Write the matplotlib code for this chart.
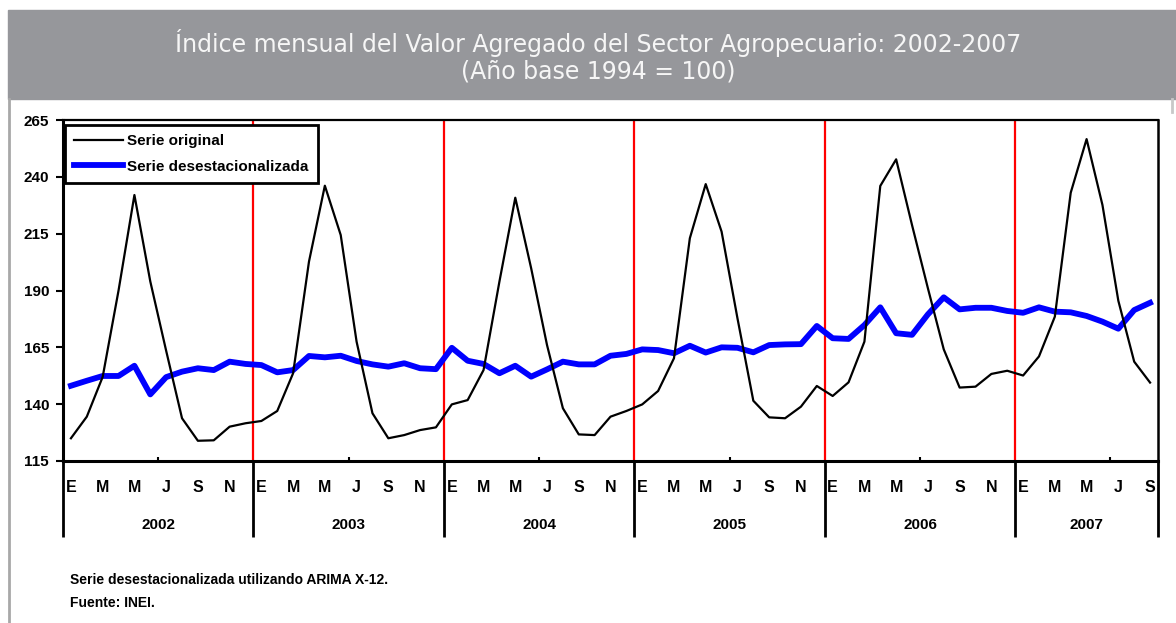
import matplotlib
matplotlib.use('Agg')
import matplotlib.pyplot as plt
from matplotlib.patches import Rectangle
from matplotlib.lines import Line2D
import numpy as np

FONT = ['Liberation Sans Narrow', 'Liberation Sans', 'DejaVu Sans']
plt.rcParams['font.family'] = FONT

years = ['2002', '2003', '2004', '2005', '2006', '2007']
month_letters = ['E', 'M', 'M', 'J', 'S', 'N']

# Serie original (indice mensual), ene-2002 a set-2007
serie_original = [
    125.0, 134.5, 152.0, 190.0, 232.0, 194.0, 163.5, 133.8, 123.9, 124.1, 130.1, 131.6,
    132.6, 137.0, 153.6, 202.7, 236.1, 214.4, 167.5, 136.0, 125.0, 126.4, 128.6, 129.8,
    139.9, 141.8, 155.0, 193.9, 230.8, 199.8, 166.0, 138.2, 126.7, 126.4, 134.5, 137.0,
    139.9, 145.8, 160.2, 213.0, 236.8, 215.9, 177.8, 141.5, 134.2, 133.8, 138.9, 148.0,
    143.6, 149.6, 167.5, 236.0, 247.7, 218.8, 191.0, 164.1, 147.3, 147.7, 153.3, 154.7,
    152.6, 161.0, 178.5, 233.0, 256.6, 227.6, 185.5, 158.7, 149.5,
]

# Serie desestacionalizada (ARIMA X-12)
serie_desest = [
    148.1, 150.3, 152.4, 152.4, 156.9, 144.3, 151.9, 154.3, 155.8, 155.0, 158.7, 157.7,
    157.2, 154.0, 155.0, 161.2, 160.6, 161.3, 159.0, 157.5, 156.5, 158.0, 155.8, 155.4,
    164.8, 159.1, 157.7, 153.6, 156.9, 152.1, 155.3, 158.7, 157.5, 157.5, 161.3, 162.1,
    164.1, 163.8, 162.4, 165.7, 162.7, 165.0, 164.8, 162.8, 166.0, 166.3, 166.4, 174.4,
    169.0, 168.7, 174.8, 182.6, 171.2, 170.5, 179.5, 187.0, 181.7, 182.4, 182.4, 181.0,
    180.2, 182.6, 180.7, 180.4, 178.8, 176.3, 173.2, 181.4, 184.6,
]

W, H = 1176, 623
fig = plt.figure(figsize=(W / 100, H / 100), dpi=100)

# header band
fig.patches.append(Rectangle((8 / W, 1 - 99 / H), 1 - 8 / W, 89 / H,
                             transform=fig.transFigure, color='#96979b', zorder=0))
fig.lines.append(Line2D([9 / W, 9 / W], [0, 1 - 99 / H], transform=fig.transFigure,
                        color='#a8a8a8', lw=2))
fig.lines.append(Line2D([1172 / W, 1172 / W], [1 - 112 / H, 1 - 99 / H], transform=fig.transFigure,
                        color='#c8c8c8', lw=2))
fig.text(598 / W, 1 - 43 / H, 'Índice mensual del Valor Agregado del Sector Agropecuario: 2002-2007',
         ha='center', va='center', color='#f6f6f6', fontsize=17, family='DejaVu Sans')
fig.text(598 / W, 1 - 72 / H, '(Año base 1994 = 100)',
         ha='center', va='center', color='#f6f6f6', fontsize=17, family='DejaVu Sans')

ax = fig.add_axes([63 / W, 1 - 461 / H, (1158 - 63) / W, (461 - 120) / H])
n = len(serie_original)
x = np.arange(n)

for k in range(1, len(years)):
    ax.axvline(12 * k - 0.5, color='red', lw=1.6, zorder=1)

ax.plot(x, serie_original, color='black', lw=1.6, label='Serie original', zorder=3)
ax.plot(x, serie_desest, color='#0000ff', lw=4.2, label='Serie desestacionalizada', zorder=2)

ax.set_xlim(-0.5, n - 0.5)
ax.set_ylim(115, 265)
ax.set_yticks(range(115, 266, 25))
ax.tick_params(axis='y', direction='out', length=5, width=1.5, pad=5, labelsize=11)
for lab in ax.get_yticklabels():
    lab.set_fontweight('bold')

ax.set_xticks([])
ax.set_xticks([12 * k + 5.5 for k in range(len(years))], minor=True)
ax.tick_params(axis='x', which='minor', direction='in', length=3, width=1.5, labelbottom=False)

ax.spines['left'].set_linewidth(2.2)
ax.spines['bottom'].set_linewidth(2.2)
ax.spines['top'].set_linewidth(1.6)
ax.spines['right'].set_linewidth(1.8)

# category axis below
trans = ax.get_xaxis_transform()
seps = [12 * k - 0.5 for k in range(len(years))] + [n - 0.5]
ax.vlines(seps, -76 / 341, 0, transform=trans, color='black', lw=2, clip_on=False)
for k, yr in enumerate(years):
    start = 12 * k
    end = min(12 * k + 11, n - 1)
    for j, letter in enumerate(month_letters):
        idx = start + 2 * j
        if idx < n:
            ax.text(idx, -26 / 341, letter, transform=trans, ha='center', va='center',
                    fontsize=11.5, fontweight='bold')
    ax.text((start + end) / 2, -64 / 341, yr, transform=trans, ha='center', va='center',
            fontsize=11, fontweight='bold')

leg = ax.legend(loc='upper left', bbox_to_anchor=(0.002, 0.985), borderaxespad=0,
                fancybox=False, framealpha=1, edgecolor='black',
                prop={'family': FONT, 'size': 11, 'weight': 'bold'},
                handlelength=3.2, handletextpad=0.25, labelspacing=0.75, borderpad=0.6)
leg.get_frame().set_linewidth(2)

fig.text(70 / W, 1 - 580 / H, 'Serie desestacionalizada utilizando ARIMA X-12.',
         ha='left', va='center', fontsize=10, fontweight='bold')
fig.text(70 / W, 1 - 603 / H, 'Fuente: INEI.',
         ha='left', va='center', fontsize=10, fontweight='bold')

fig.savefig('out.png', dpi=100)
